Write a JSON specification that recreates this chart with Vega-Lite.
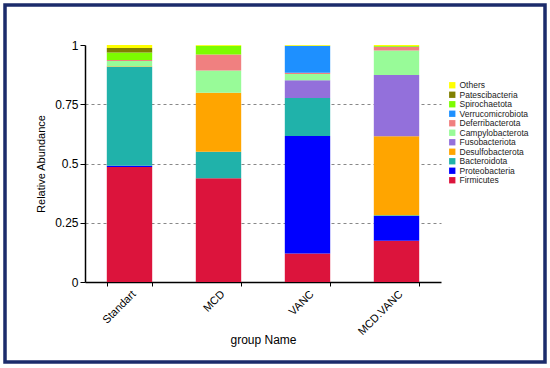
{
  "$schema": "https://vega.github.io/schema/vega-lite/v6.json",
  "width": 540,
  "height": 357,
  "autosize": {"type": "none"},
  "padding": {"left": 5, "top": 5, "right": 5, "bottom": 6},
  "background": "white",
  "config": {
    "view": {"stroke": "#1c2b6b", "strokeWidth": 3.5},
    "font": "Liberation Sans"
  },
  "data": {
    "values": [
      {"group": "Standart", "phylum": "Firmicutes", "rank": 1, "abundance": 0.485},
      {"group": "Standart", "phylum": "Proteobacteria", "rank": 2, "abundance": 0.005},
      {"group": "Standart", "phylum": "Bacteroidota", "rank": 3, "abundance": 0.418},
      {"group": "Standart", "phylum": "Desulfobacterota", "rank": 4, "abundance": 0.002},
      {"group": "Standart", "phylum": "Campylobacterota", "rank": 6, "abundance": 0.022},
      {"group": "Standart", "phylum": "Deferribacterota", "rank": 7, "abundance": 0.005},
      {"group": "Standart", "phylum": "Spirochaetota", "rank": 9, "abundance": 0.031},
      {"group": "Standart", "phylum": "Patescibacteria", "rank": 10, "abundance": 0.019},
      {"group": "Standart", "phylum": "Others", "rank": 11, "abundance": 0.013},
      {"group": "MCD", "phylum": "Firmicutes", "rank": 1, "abundance": 0.438},
      {"group": "MCD", "phylum": "Bacteroidota", "rank": 3, "abundance": 0.112},
      {"group": "MCD", "phylum": "Desulfobacterota", "rank": 4, "abundance": 0.249},
      {"group": "MCD", "phylum": "Campylobacterota", "rank": 6, "abundance": 0.093},
      {"group": "MCD", "phylum": "Deferribacterota", "rank": 7, "abundance": 0.068},
      {"group": "MCD", "phylum": "Spirochaetota", "rank": 9, "abundance": 0.037},
      {"group": "MCD", "phylum": "Others", "rank": 11, "abundance": 0.003},
      {"group": "VANC", "phylum": "Firmicutes", "rank": 1, "abundance": 0.12},
      {"group": "VANC", "phylum": "Proteobacteria", "rank": 2, "abundance": 0.496},
      {"group": "VANC", "phylum": "Bacteroidota", "rank": 3, "abundance": 0.16},
      {"group": "VANC", "phylum": "Fusobacteriota", "rank": 5, "abundance": 0.075},
      {"group": "VANC", "phylum": "Deferribacterota", "rank": 7, "abundance": 0.005},
      {"group": "VANC", "phylum": "Campylobacterota", "rank": 6, "abundance": 0.027},
      {"group": "VANC", "phylum": "Verrucomicrobiota", "rank": 8, "abundance": 0.114},
      {"group": "VANC", "phylum": "Others", "rank": 11, "abundance": 0.003},
      {"group": "MCD.VANC", "phylum": "Firmicutes", "rank": 1, "abundance": 0.174},
      {"group": "MCD.VANC", "phylum": "Proteobacteria", "rank": 2, "abundance": 0.105},
      {"group": "MCD.VANC", "phylum": "Bacteroidota", "rank": 3, "abundance": 0.003},
      {"group": "MCD.VANC", "phylum": "Desulfobacterota", "rank": 4, "abundance": 0.333},
      {"group": "MCD.VANC", "phylum": "Fusobacteriota", "rank": 5, "abundance": 0.258},
      {"group": "MCD.VANC", "phylum": "Campylobacterota", "rank": 6, "abundance": 0.104},
      {"group": "MCD.VANC", "phylum": "Deferribacterota", "rank": 7, "abundance": 0.016},
      {"group": "MCD.VANC", "phylum": "Spirochaetota", "rank": 9, "abundance": 0.003},
      {"group": "MCD.VANC", "phylum": "Others", "rank": 11, "abundance": 0.004}
    ]
  },
  "mark": {"type": "bar"},
  "encoding": {
    "x": {
      "field": "group",
      "type": "nominal",
      "sort": ["Standart", "MCD", "VANC", "MCD.VANC"],
      "scale": {"range": [80, 436], "paddingInner": 0.49, "paddingOuter": 0.245},
      "axis": {
        "title": "group Name",
        "labelAngle": -45,
        "labelAlign": "right",
        "labelBaseline": "top",
        "labelFontSize": 11,
        "labelColor": "black",
        "labelPadding": 2,
        "offset": -80,
        "domainColor": "black",
        "domainWidth": 1.5,
        "tickColor": "black",
        "tickSize": 4,
        "tickBand": "extent",
        "titleFontSize": 12,
        "titleFontWeight": "normal",
        "titleColor": "black",
        "titleY": 57,
        "titleBaseline": "middle"
      }
    },
    "y": {
      "field": "abundance",
      "type": "quantitative",
      "stack": "zero",
      "scale": {"domain": [0, 1], "range": [277, 40], "nice": false},
      "axis": {
        "title": "Relative Abundance",
        "values": [0, 0.25, 0.5, 0.75, 1],
        "format": ".2~f",
        "offset": -80,
        "grid": true,
        "gridDash": [3, 3],
        "gridColor": "#888888",
        "gridOpacity": {"condition": {"test": "datum.value === 0 || datum.value === 1", "value": 0}, "value": 1},
        "domainColor": "black",
        "domainWidth": 1.5,
        "tickColor": "black",
        "tickSize": 5,
        "labelFontSize": 12,
        "labelColor": "black",
        "labelPadding": 2,
        "titleFontSize": 11,
        "titleFontWeight": "normal",
        "titleColor": "black",
        "titleX": -44,
        "titleBaseline": "middle"
      }
    },
    "color": {
      "field": "phylum",
      "type": "nominal",
      "scale": {
        "domain": ["Others", "Patescibacteria", "Spirochaetota", "Verrucomicrobiota", "Deferribacterota", "Campylobacterota", "Fusobacteriota", "Desulfobacterota", "Bacteroidota", "Proteobacteria", "Firmicutes"],
        "range": ["#FFFF00", "#808000", "#7CFC00", "#1E90FF", "#F08080", "#98FB98", "#9370DB", "#FFA500", "#20B2AA", "#0000FF", "#DC143C"]
      },
      "legend": {
        "orient": "none",
        "legendX": 443,
        "legendY": 76,
        "title": null,
        "symbolType": "square",
        "symbolSize": 40,
        "symbolStrokeWidth": 0,
        "labelFontSize": 8.5,
        "labelColor": "#222222",
        "rowPadding": 0.5,
        "labelOffset": 3
      }
    },
    "order": {"field": "rank", "type": "quantitative"}
  }
}
